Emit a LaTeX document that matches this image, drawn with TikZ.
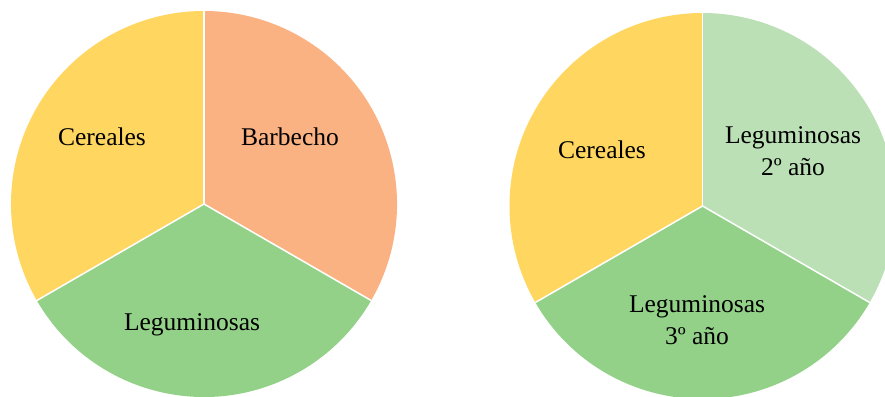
\documentclass[tikz,border=0pt]{standalone}
\usepackage{fontspec}
\setmainfont{Liberation Serif}
\definecolor{cyellow}{RGB}{255,214,96}
\definecolor{corange}{RGB}{251,178,131}
\definecolor{cgreen}{RGB}{147,209,137}
\definecolor{clight}{RGB}{187,224,181}
\begin{document}
\begin{tikzpicture}[x=1pt,y=1pt,
  lbl/.style={font=\fontsize{25.5}{32}\selectfont, align=center, text=black, inner sep=0pt},
  sep/.style={draw=white, line width=1.5pt}]
\useasboundingbox (0,0) rectangle (885,396);
\fill[white] (0,0) rectangle (885,396);
\clip (0,0) rectangle (885,396);
\def\R{193}
% left pie
\coordinate (lc) at (204,192);
\fill[cyellow] (lc) -- ++(90:\R) arc[start angle=90,end angle=210,radius=\R] -- cycle;
\fill[cgreen] (lc) -- ++(210:\R) arc[start angle=210,end angle=330,radius=\R] -- cycle;
\fill[corange] (lc) -- ++(330:\R) arc[start angle=-30,end angle=90,radius=\R] -- cycle;
\path (lc) ++(90:\R) coordinate (lt) (lc) ++(210:\R) coordinate (ll) (lc) ++(330:\R) coordinate (lr);
\draw[sep] (lc) -- (lt);
\draw[sep] (lc) -- (ll);
\draw[sep] (lc) -- (lr);
\node[lbl] (l1) at (102,259) {Cereales};
\node[lbl] (l2) at (290,259) {Barbecho};
\node[lbl] (l3) at (192,71) {Leguminosas};
% right pie
\coordinate (rc) at (702.5,190);
\fill[cyellow] (rc) -- ++(90:\R) arc[start angle=90,end angle=210,radius=\R] -- cycle;
\fill[cgreen] (rc) -- ++(210:\R) arc[start angle=210,end angle=330,radius=\R] -- cycle;
\fill[clight] (rc) -- ++(330:\R) arc[start angle=-30,end angle=90,radius=\R] -- cycle;
\path (rc) ++(90:\R) coordinate (rt) (rc) ++(210:\R) coordinate (rl) (rc) ++(330:\R) coordinate (rr);
\draw[sep] (rc) -- (rt);
\draw[sep] (rc) -- (rl);
\draw[sep] (rc) -- (rr);
\node[lbl] (r1) at (602,246) {Cereales};
\node[lbl] (r2) at (793,245) {Leguminosas\\2º año};
\node[lbl] (r3) at (697,76) {Leguminosas\\3º año};
\end{tikzpicture}
\end{document}
